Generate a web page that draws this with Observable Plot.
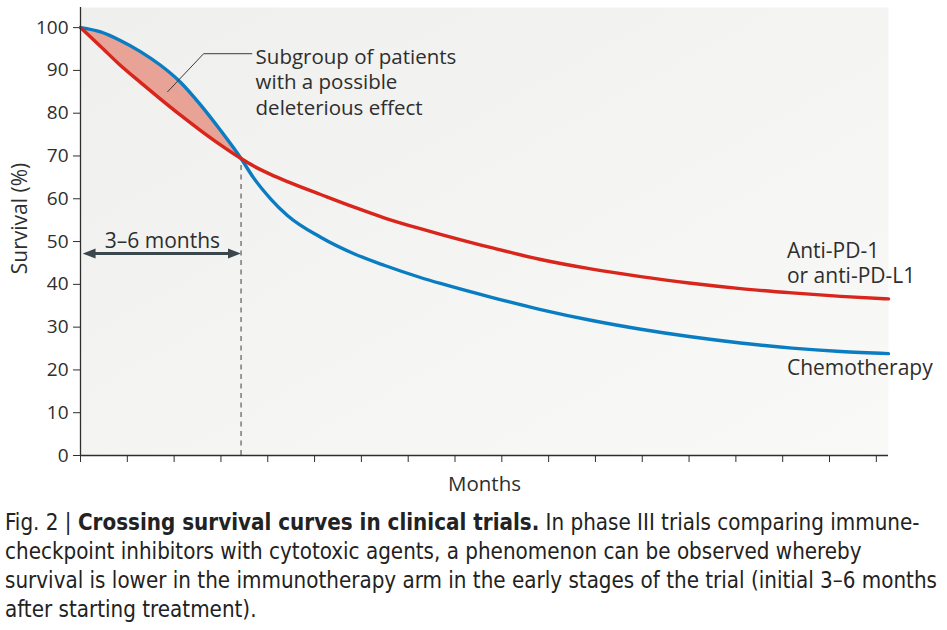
<!DOCTYPE html>
<html>
<head>
<meta charset="utf-8">
<script src="https://cdn.jsdelivr.net/npm/d3@7"></script>
<script src="https://cdn.jsdelivr.net/npm/@observablehq/plot@0.6"></script>
<style>
  html, body { margin: 0; padding: 0; background: #ffffff; }
  #chart { width: 947px; height: 500px; }
  #caption {
    font-family: "DejaVu Sans Condensed", "DejaVu Sans", sans-serif;
    font-size: 23px; color: #222; line-height: 29px;
    padding-left: 5px; margin-top: 8px; white-space: nowrap;
  }
  #caption div { display: block; transform: scaleX(0.965); transform-origin: left center; }
  #caption b { font-weight: bold; }
</style>
</head>
<body>
<div id="chart"></div>
<div id="caption">
  <div>Fig. 2 | <b>Crossing survival curves in clinical trials.</b> In phase III trials comparing immune-</div>
  <div>checkpoint inhibitors with cytotoxic agents, a phenomenon can be observed whereby</div>
  <div>survival is lower in the immunotherapy arm in the early stages of the trial (initial 3–6 months</div>
  <div>after starting treatment).</div>
</div>
<script>
// ---- data (x in tick units along the "Months" axis) ----
const months  = [0, 0.43, 0.85, 1.28, 1.71, 2.13, 2.56, 2.99, 3.43, 3.69, 4.06, 4.42, 5.13, 5.83, 6.5, 7.26, 7.69, 8.8, 9.83, 10.9, 11.97, 13.0, 14.1, 15.2, 16.24, 17.26];
const antiPD  = [100, 95.6, 91.2, 87.2, 83.3, 79.6, 76.0, 72.6, 69.4, 67.7, 65.7, 64.0, 61.0, 58.1, 55.5, 53.0, 51.7, 48.5, 45.8, 43.6, 41.8, 40.3, 39.0, 38.0, 37.2, 36.6];
const chemo   = [100, 99.0, 97.0, 94.4, 91.2, 87.3, 82.0, 76.0, 69.4, 65.0, 60.0, 56.1, 51.0, 47.2, 44.4, 41.6, 40.2, 36.9, 34.1, 31.6, 29.5, 27.8, 26.3, 25.1, 24.3, 23.8];
const yTicks  = [0, 10, 20, 30, 40, 50, 60, 70, 80, 90, 100];
const xTicks  = [0, 1, 2, 3, 4, 5, 6, 7, 8, 9, 10, 11, 12, 13, 14, 15, 16, 17];
const crossing = {month: 3.43, survival: 69.4};
const arrowSpan = {from: 0.13, to: 3.34, level: 47.2, label: "3–6 months", labelX: 1.75, labelY: 48.6};
const subgroupNote = {text: "Subgroup of patients\nwith a possible\ndeleterious effect", x: 3.74, y: 95.86};
const leader = [{month: 1.86, survival: 85.0}, {month: 2.63, survival: 93.9}, {month: 3.66, survival: 93.9}];
const seriesLabels = [
  {text: "Anti-PD-1\nor anti-PD-L1", x: 15.09, y: 50.5, anchor: "top"},
  {text: "Chemotherapy", x: 15.09, y: 18.7, anchor: "bottom"}
];
const axisLabels = {x: "Months", y: "Survival (%)"};

const rows = months.map((m, i) => ({month: m, anti: antiPD[i], chemo: chemo[i]}));
const early = rows.filter(d => d.month <= crossing.month);

const red = "#d8261c", blue = "#0a7dc2", ink = "#2e2e2e";
const textFont = 21;

function triMarker(color) {
  const ns = "http://www.w3.org/2000/svg";
  const m = document.createElementNS(ns, "marker");
  m.setAttribute("viewBox", "-9 -5.5 13 11");
  m.setAttribute("markerUnits", "userSpaceOnUse");
  m.setAttribute("markerWidth", 13);
  m.setAttribute("markerHeight", 11);
  m.setAttribute("orient", "auto-start-reverse");
  const p = document.createElementNS(ns, "path");
  p.setAttribute("d", "M-9,-5L4,0L-9,5Z");
  p.setAttribute("fill", color);
  p.setAttribute("stroke", "none");
  m.appendChild(p);
  return m;
}

const plot = Plot.plot({
  width: 947,
  height: 500,
  marginLeft: 80,
  marginRight: 59,
  marginTop: 7,
  marginBottom: 45,
  style: {fontFamily: "'Open Sans', sans-serif", fontSize: "19px", color: ink, background: "transparent", overflow: "visible"},
  x: {domain: [0, 17.26], ticks: xTicks, tickSize: 7, tickFormat: () => "", label: null},
  y: {domain: [0, 104.7], ticks: yTicks, tickSize: 7, tickPadding: 5, label: null},
  marks: [
    Plot.frame({fill: "url(#bgGrad)", stroke: "none"}),
    Plot.areaY(early, {x: "month", y1: "anti", y2: "chemo", fill: "#e8a296", curve: "monotone-x"}),
    Plot.ruleX([crossing], {x: "month", y1: 0, y2: "survival", stroke: "#7a7a7a", strokeWidth: 1.5, strokeDasharray: "5,4.5"}),
    Plot.line(rows, {x: "month", y: "chemo", stroke: blue, strokeWidth: 3.4, curve: "monotone-x"}),
    Plot.line(rows, {x: "month", y: "anti", stroke: red, strokeWidth: 3.4, curve: "monotone-x"}),
    Plot.line(leader, {x: "month", y: "survival", stroke: "#3a3a3a", strokeWidth: 1}),
    Plot.link([arrowSpan], {x1: "from", x2: "to", y1: "level", y2: "level", stroke: "#3a474d", strokeWidth: 3, markerStart: triMarker, markerEnd: triMarker}),
    Plot.text([arrowSpan], {x: "labelX", y: "labelY", text: "label", textAnchor: "middle", lineAnchor: "bottom", fontSize: textFont, fill: ink}),
    Plot.text([subgroupNote], {x: "x", y: "y", text: "text", textAnchor: "start", lineAnchor: "top", lineHeight: 1.26, fontSize: 20.5, fill: ink}),
    Plot.text(seriesLabels.filter(d => d.anchor === "top"), {x: "x", y: "y", text: "text", textAnchor: "start", lineAnchor: "top", lineHeight: 1.22, fontSize: textFont, fill: ink}),
    Plot.text(seriesLabels.filter(d => d.anchor === "bottom"), {x: "x", y: "y", text: "text", textAnchor: "start", lineAnchor: "bottom", fontSize: textFont, fill: ink}),
    Plot.ruleX([0], {stroke: ink, strokeWidth: 1.3}),
    Plot.ruleY([0], {stroke: ink, strokeWidth: 1.3}),
    Plot.text([axisLabels], {x: 8.63, y: 0, text: "x", dy: 29, fontSize: 20.5, fill: ink, textAnchor: "middle"}),
    Plot.text([axisLabels], {x: 0, y: 55.4, text: "y", dx: -60, rotate: -90, fontSize: 21, fill: ink, textAnchor: "middle"})
  ]
});

// gradient background definition for the frame
const ns = "http://www.w3.org/2000/svg";
const defs = document.createElementNS(ns, "defs");
defs.innerHTML = '<linearGradient id="bgGrad" x1="0" y1="0" x2="1" y2="1"><stop offset="0" stop-color="#efefed"/><stop offset="1" stop-color="#f9f9f8"/></linearGradient>';
plot.insertBefore(defs, plot.firstChild);
plot.querySelectorAll('g[aria-label="y-axis tick label"] text, g[aria-label="y-axis"] text').forEach(t => t.setAttribute("fill", ink));
document.getElementById("chart").appendChild(plot);
</script>
</body>
</html>
